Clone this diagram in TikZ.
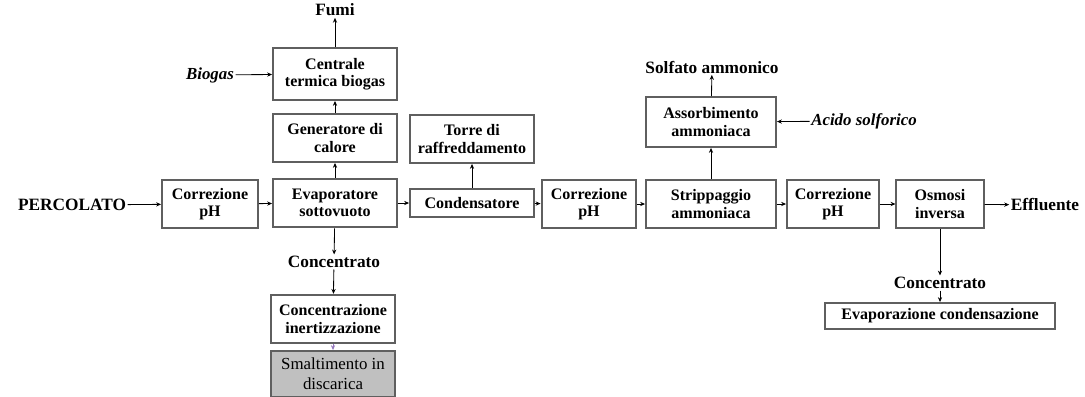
\documentclass[tikz,border=0pt]{standalone}
\usepackage{fontspec}
\setmainfont{Liberation Serif}
\usetikzlibrary{arrows.meta, positioning}
\definecolor{BoxGray}{RGB}{95,95,95}
\definecolor{WasteGray}{RGB}{192,192,192}
\definecolor{LinkPurple}{RGB}{150,120,190}

\begin{document}
\begin{tikzpicture}[x=0.025cm, y=-0.025cm,
    box/.style={draw=BoxGray, line width=1.3pt, align=center, inner sep=1pt,
                font=\fontsize{11.4}{12.5}\selectfont\bfseries},
    lbl/.style={align=center, inner sep=1pt, font=\fontsize{12.3}{14}\selectfont\bfseries},
    itl/.style={inner sep=1pt, font=\fontsize{12}{14}\selectfont\bfseries\itshape},
    flow/.style={-{Stealth[length=3.5pt, width=3pt]}, line width=0.6pt, black}]
  \useasboundingbox (0,0) rectangle (1085,396);

  % colonna del biogas
  \node[box, minimum width=3.1cm, minimum height=1.3cm] (centrale) at (335,74) {Centrale\\termica biogas};
  \node[box, minimum width=3.1cm, minimum height=1.2cm] (generatore) at (335,138) {Generatore di\\calore};
  \node[box, minimum width=3.1cm, minimum height=1.22cm] (evap) at (335,203) {Evaporatore\\sottovuoto};
  \node[lbl] (fumi) at (335,10) {Fumi};
  \node[itl] (biogas) at (210,75) {Biogas};

  % linea principale
  \node[lbl] (percolato) at (72,205) {PERCOLATO};
  \node[box, minimum width=2.4cm, minimum height=1.2cm] (corr1) at (210,204) {Correzione\\pH};
  \node[box, minimum width=3.1cm, minimum height=0.72cm] (cond) at (472,203) {Condensatore};
  \node[box, minimum width=3.1cm, minimum height=1.2cm] (torre) at (472,139) {Torre di\\raffreddamento};
  \node[box, line width=2pt, minimum width=2.35cm, minimum height=1.2cm] (corr2) at (589,204) {Correzione\\pH};
  \node[box, minimum width=3.25cm, minimum height=1.2cm] (stripp) at (711,204) {Strippaggio\\ammoniaca};
  \node[box, minimum width=3.25cm, minimum height=1.25cm] (assorb) at (711,122) {Assorbimento\\ammoniaca};
  \node[lbl] (solfato) at (712,67) {Solfato ammonico};
  \node[itl] (acido) at (864,121) {Acido solforico};
  \node[box, minimum width=2.3cm, minimum height=1.2cm] (corr3) at (833,204) {Correzione\\pH};
  \node[box, minimum width=2.18cm, minimum height=1.2cm] (osmosi) at (940,204) {Osmosi\\inversa};
  \node[lbl] (effluente) at (1045,205) {Effluente};

  % concentrati
  \node[lbl] (conc1) at (334,262) {Concentrato};
  \node[box, line width=1.6pt, minimum width=3.1cm, minimum height=1.2cm] (inert) at (333,319) {Concentrazione\\inertizzazione};
  \node[box, fill=WasteGray, font=\fontsize{12}{14}\selectfont, minimum width=3.1cm, minimum height=1.15cm] (smalt) at (333,374) {Smaltimento in\\discarica};
  \node[lbl] (conc2) at (940,283) {Concentrato};
  \node[box, minimum width=5.75cm, minimum height=0.65cm] (evapcond) at (940,316) {Evaporazione condensazione};

  \draw[flow] (percolato) -- (corr1);
  \draw[flow] (corr1) -- (evap);
  \draw[flow] (evap) -- (cond);
  \draw[flow] (cond) -- (corr2);
  \draw[flow] (corr2) -- (stripp);
  \draw[flow] (stripp) -- (corr3);
  \draw[flow] (corr3) -- (osmosi);
  \draw[flow] (osmosi) -- (effluente);
  \draw[flow] (biogas) -- (centrale);
  \draw[flow] (centrale) -- (fumi);
  \draw[flow] (generatore) -- (centrale);
  \draw[flow] (evap) -- (generatore);
  \draw[flow] (cond) -- (torre);
  \draw[flow] (stripp) -- (assorb);
  \draw[flow] (assorb) -- (solfato);
  \draw[flow] (acido) -- (assorb);
  \draw[flow] (evap) -- (conc1);
  \draw[flow] (conc1) -- (inert);
  \draw[flow, LinkPurple] (inert) -- (smalt);
  \draw[flow] (osmosi) -- (conc2);
  \draw[flow] (conc2) -- (evapcond);
\end{tikzpicture}
\end{document}
